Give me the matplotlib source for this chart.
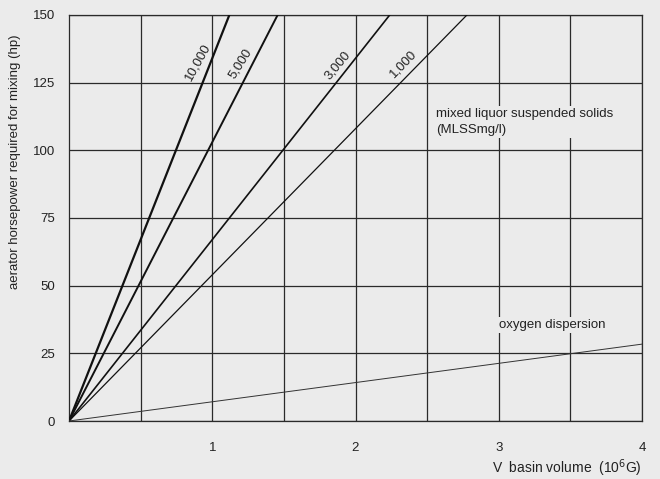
import numpy as np
import matplotlib.pyplot as plt

plt.rcParams['font.family'] = ['Liberation Sans', 'DejaVu Sans']

# slopes: hp per 10^6 gallons
mlss_labels = ['10,000', '5,000', '3,000', '1,000']
mlss_slopes = [134, 103, 67, 54]
mlss_widths = [1.6, 1.4, 1.2, 0.9]
label_pos = [(0.90, 132.5), (1.195, 132), (1.875, 131.5), (2.335, 132)]
label_rot = [61, 58, 50, 46]

oxygen_slope = 7.1

x_ticks = [1, 2, 3, 4]
y_ticks = [0, 25, 50, 75, 100, 125, 150]

bg = '#ebebeb'
grid_c = '#2a2a2a'
fs = 9.5

fig = plt.figure(figsize=(6.6, 4.79), dpi=100, facecolor=bg)
ax = fig.add_axes([69 / 660, 1 - 421 / 479, 573 / 660, 406 / 479])
ax.set_facecolor(bg)

x = np.array([0, 4.0])
for lab, s, lw, pos, rot in zip(mlss_labels, mlss_slopes, mlss_widths, label_pos, label_rot):
    ax.plot(x, s * x, color='#111111', lw=lw, zorder=3)
    ax.text(pos[0], pos[1], lab, rotation=rot, ha='center', va='center',
            fontsize=fs, color='#222222', zorder=4)

ax.plot(x, oxygen_slope * x, color='#333333', lw=0.7, zorder=3)

ax.set_xlim(0, 4)
ax.set_ylim(0, 150)
ax.set_xticks(x_ticks)
ax.set_xticks(np.arange(0.5, 4, 0.5), minor=True)
ax.set_yticks(y_ticks)
ax.tick_params(axis='both', which='both', length=0, labelsize=fs, colors='#222222')
ax.tick_params(axis='x', pad=15)
ax.tick_params(axis='y', pad=10)
ax.grid(True, which='both', color=grid_c, lw=0.9, zorder=1)
for sp in ax.spines.values():
    sp.set_color(grid_c)
    sp.set_linewidth(0.9)

ax.text(2.56, 115.5, 'mixed liquor suspended solids\n(MLSSmg/l)', fontsize=fs,
        color='#222222', va='top', ha='left', linespacing=1.4,
        bbox=dict(facecolor=bg, edgecolor='none', pad=1.5), zorder=5)
ax.text(3.0, 35.5, 'oxygen dispersion', fontsize=fs, color='#222222',
        va='center', ha='left',
        bbox=dict(facecolor=bg, edgecolor='none', pad=1.5), zorder=5)

fig.text(642 / 660, 1 - 468 / 479, r'V  basin volume  (10$^6$G)', ha='right',
         va='center', fontsize=10, color='#222222')
fig.text(15 / 660, 1 - 162 / 479, 'aerator horsepower required for mixing (hp)',
         rotation=90, ha='center', va='center', fontsize=fs, color='#222222')

fig.savefig('out.png', dpi=100, facecolor=bg)
